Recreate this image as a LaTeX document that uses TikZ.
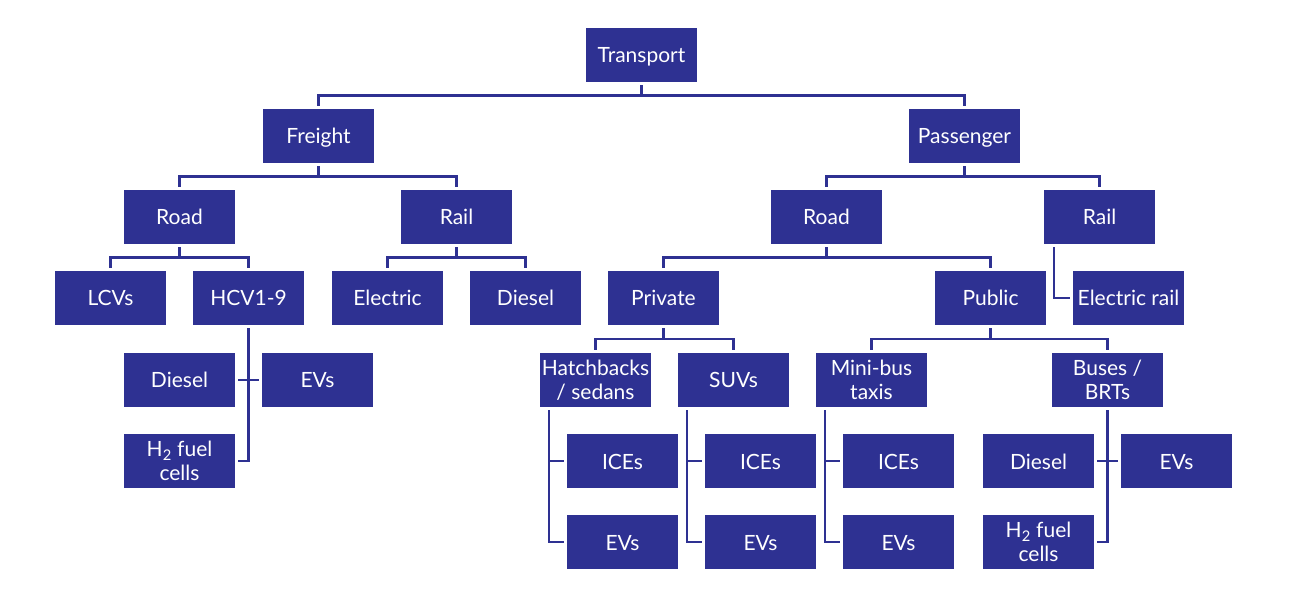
\documentclass[tikz,border=0pt]{standalone}
\usepackage{fontspec}
\setmainfont{Lato}
\definecolor{navy}{RGB}{46,49,146}
\tikzset{
  box/.style={fill=navy, draw=none, text=white, minimum width=111pt, minimum height=54pt,
    inner sep=0pt, align=center, font=\fontsize{21}{24}\selectfont},
  one/.style={box, text height=16pt, text depth=0pt},
  conn/.style={draw=navy, line width=2.6pt, shorten <=3pt, shorten >=3pt},
}
\begin{document}
\begin{tikzpicture}[x=1pt,y=-1pt]
\useasboundingbox (0,0) rectangle (1306,593);
% level 1
\node[one] (T) at (641.5,55) {Transport};
% level 2
\node[one] (Fr) at (318.5,136) {Freight};
\node[one] (Pa) at (964.5,136) {Passenger};
% level 3
\node[one] (FRoad) at (179.5,217) {Road};
\node[one] (FRail) at (456.5,217) {Rail};
\node[one] (PRoad) at (826.5,217) {Road};
\node[one] (PRail) at (1099.5,217) {Rail};
% level 4
\node[one] (LCV) at (110.5,298) {LCVs};
\node[one] (HCV) at (248.5,298) {HCV1-9};
\node[one] (Elec) at (387.5,298) {Electric};
\node[one] (FDie) at (525.5,298) {Diesel};
\node[one] (Priv) at (663.5,298) {Private};
\node[one] (Pub) at (990.5,298) {Public};
\node[one] (ERail) at (1128.5,298) {Electric rail};
% level 5
\node[one] (HDie) at (179.5,380) {Diesel};
\node[one] (HEV) at (317.5,380) {EVs};
\node[box] (Hat) at (595.5,380) {Hatchbacks\\/ sedans};
\node[one] (SUV) at (733.5,380) {SUVs};
\node[box] (Mini) at (871.5,380) {Mini-bus\\taxis};
\node[box] (Bus) at (1107.5,380) {Buses /\\BRTs};
% level 6
\node[box] (HH2) at (179.5,461) {H\textsubscript{2} fuel\\cells};
\node[one] (ICEa) at (622.5,461) {ICEs};
\node[one] (ICEb) at (760.5,461) {ICEs};
\node[one] (ICEc) at (898.5,461) {ICEs};
\node[one] (BDie) at (1038.5,461) {Diesel};
\node[one] (BEV) at (1176.5,461) {EVs};
% level 7
\node[one] (EVa) at (622.5,542) {EVs};
\node[one] (EVb) at (760.5,542) {EVs};
\node[one] (EVc) at (898.5,542) {EVs};
\node[box] (BH2) at (1038.5,542) {H\textsubscript{2} fuel\\cells};
% tree connectors
\draw[conn] (T.south) -- ++(0,13.5) -| (Fr.north);
\draw[conn] (T.south) -- ++(0,13.5) -| (Pa.north);
\draw[conn] (Fr.south) -- ++(0,13.5) -| (FRoad.north);
\draw[conn] (Fr.south) -- ++(0,13.5) -| (FRail.north);
\draw[conn] (Pa.south) -- ++(0,13.5) -| (PRoad.north);
\draw[conn] (Pa.south) -- ++(0,13.5) -| (PRail.north);
\draw[conn] (FRoad.south) -- ++(0,13.5) -| (LCV.north);
\draw[conn] (FRoad.south) -- ++(0,13.5) -| (HCV.north);
\draw[conn] (FRail.south) -- ++(0,13.5) -| (Elec.north);
\draw[conn] (FRail.south) -- ++(0,13.5) -| (FDie.north);
\draw[conn] (PRoad.south) -- ++(0,13.5) -| (Priv.north);
\draw[conn] (PRoad.south) -- ++(0,13.5) -| (Pub.north);
\draw[conn] (Priv.south) -- ++(0,14) -| (Hat.north);
\draw[conn] (Priv.south) -- ++(0,14) -| (SUV.north);
\draw[conn] (Pub.south) -- ++(0,14) -| (Mini.north);
\draw[conn] (Pub.south) -- ++(0,14) -| (Bus.north);
% side connectors
\draw[conn] ([xshift=10pt]PRail.south west) |- (ERail.west);
\draw[conn] (HCV.south) |- (HH2.east);
\draw[conn] (HDie.east) -- (HEV.west);
\draw[conn] ([xshift=9pt]Hat.south west) |- (ICEa.west);
\draw[conn] ([xshift=9pt]Hat.south west) |- (EVa.west);
\draw[conn] ([xshift=9pt]SUV.south west) |- (ICEb.west);
\draw[conn] ([xshift=9pt]SUV.south west) |- (EVb.west);
\draw[conn] ([xshift=9pt]Mini.south west) |- (ICEc.west);
\draw[conn] ([xshift=9pt]Mini.south west) |- (EVc.west);
\draw[conn] (Bus.south) |- (BH2.east);
\draw[conn] (BDie.east) -- (BEV.west);
\end{tikzpicture}
\end{document}
